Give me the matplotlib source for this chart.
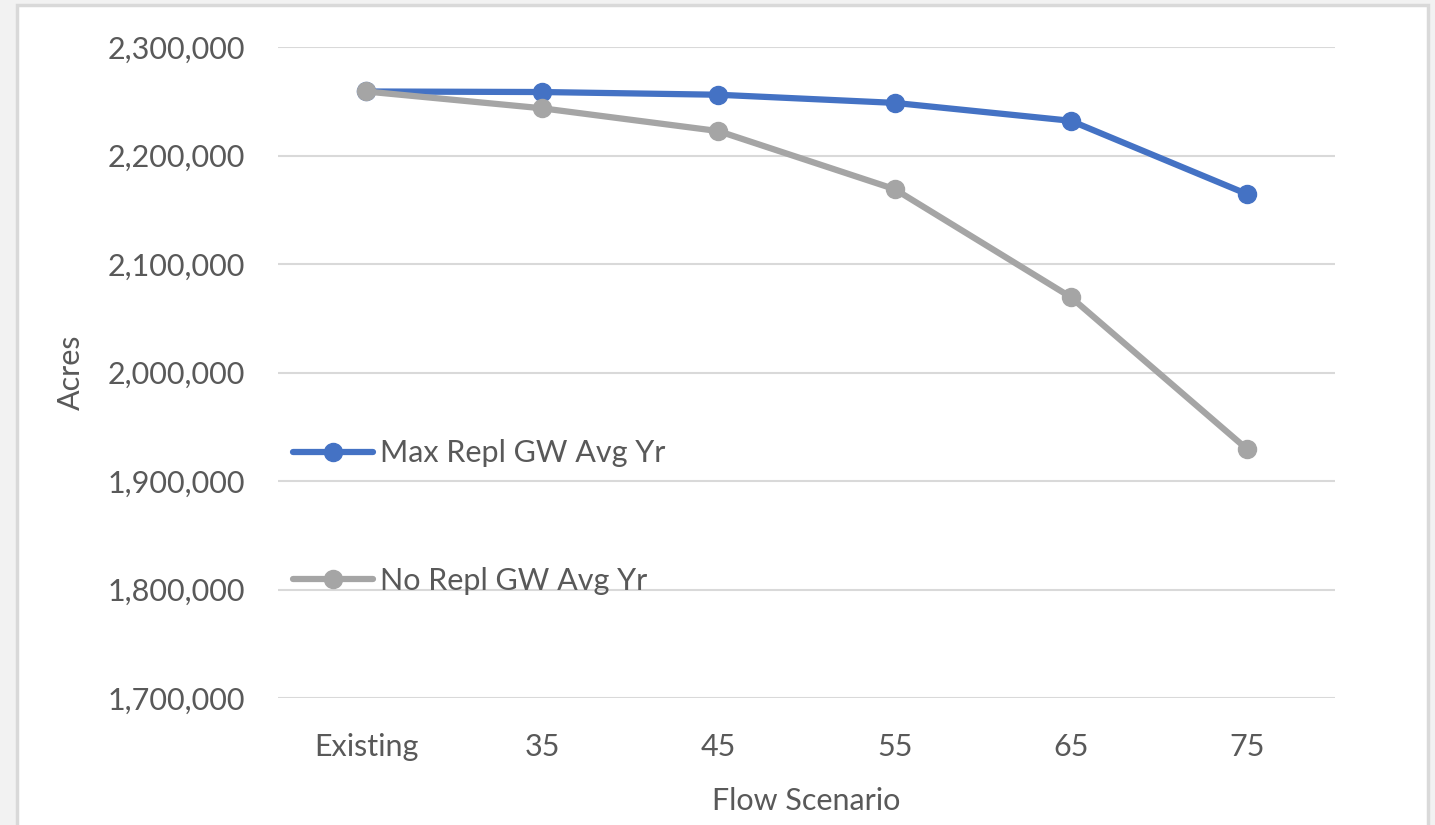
import matplotlib.pyplot as plt
from matplotlib.patches import Rectangle
from matplotlib.ticker import FuncFormatter

# scenario categories on the x axis
scenarios = ["Existing", "35", "45", "55", "65", "75"]

# acres per scenario
max_repl = [2259000, 2258500, 2256000, 2248500, 2232000, 2164500]
no_repl = [2259000, 2243500, 2222500, 2169000, 2069500, 1929500]

yticks = [1700000, 1800000, 1900000, 2000000, 2100000, 2200000, 2300000]

plt.rcParams['font.family'] = ['Lato', 'DejaVu Sans']

fig = plt.figure(figsize=(14.35, 8.25), dpi=100, facecolor='#f2f2f2')
# white chart area with a light frame, kept behind the axes
frame = Rectangle((17 / 1435, -0.05), (1428 - 17) / 1435, 1.05 - 5 / 825,
                  transform=fig.transFigure, facecolor='white',
                  edgecolor='#d9d9d9', linewidth=2.5, zorder=-5)
fig.add_artist(frame)

ax = fig.add_axes([278 / 1435, 1 - 698 / 825, (1335 - 278) / 1435, (698 - 47) / 825])
ax.set_facecolor('none')

x = range(len(scenarios))
ax.plot(x, max_repl, color='#4472C4', lw=4.5, marker='o', ms=13,
        solid_capstyle='round', label="Max Repl GW Avg Yr", zorder=3)
ax.plot(x, no_repl, color='#A5A5A5', lw=4.5, marker='o', ms=13,
        solid_capstyle='round', label="No Repl GW Avg Yr", zorder=4)

ax.set_xlim(-0.5, len(scenarios) - 0.5)
ax.set_ylim(1700000, 2300000)
ax.set_yticks(yticks)
ax.yaxis.set_major_formatter(FuncFormatter(lambda v, p: f"{int(v):,}"))
ax.set_xticks(list(x))
ax.set_xticklabels(scenarios)

ax.grid(axis='y', color='#d9d9d9', lw=1.5)
ax.set_axisbelow(True)
for s in ax.spines.values():
    s.set_visible(False)
ax.tick_params(length=0, labelsize=22, labelcolor='#595959', pad=24)
ax.tick_params(axis='x', pad=25)

ax.set_ylabel("Acres", fontsize=22, color='#595959', labelpad=16)
ax.set_xlabel("Flow Scenario", fontsize=22, color='#595959', labelpad=19)

leg = ax.legend(loc='upper left', bbox_to_anchor=(0.0, 0.421), frameon=False,
                fontsize=22, labelspacing=3.27, handlelength=2.6, handletextpad=0.25,
                borderaxespad=0.1, labelcolor='#595959')

fig.savefig("out.png", dpi=100, facecolor=fig.get_facecolor())
